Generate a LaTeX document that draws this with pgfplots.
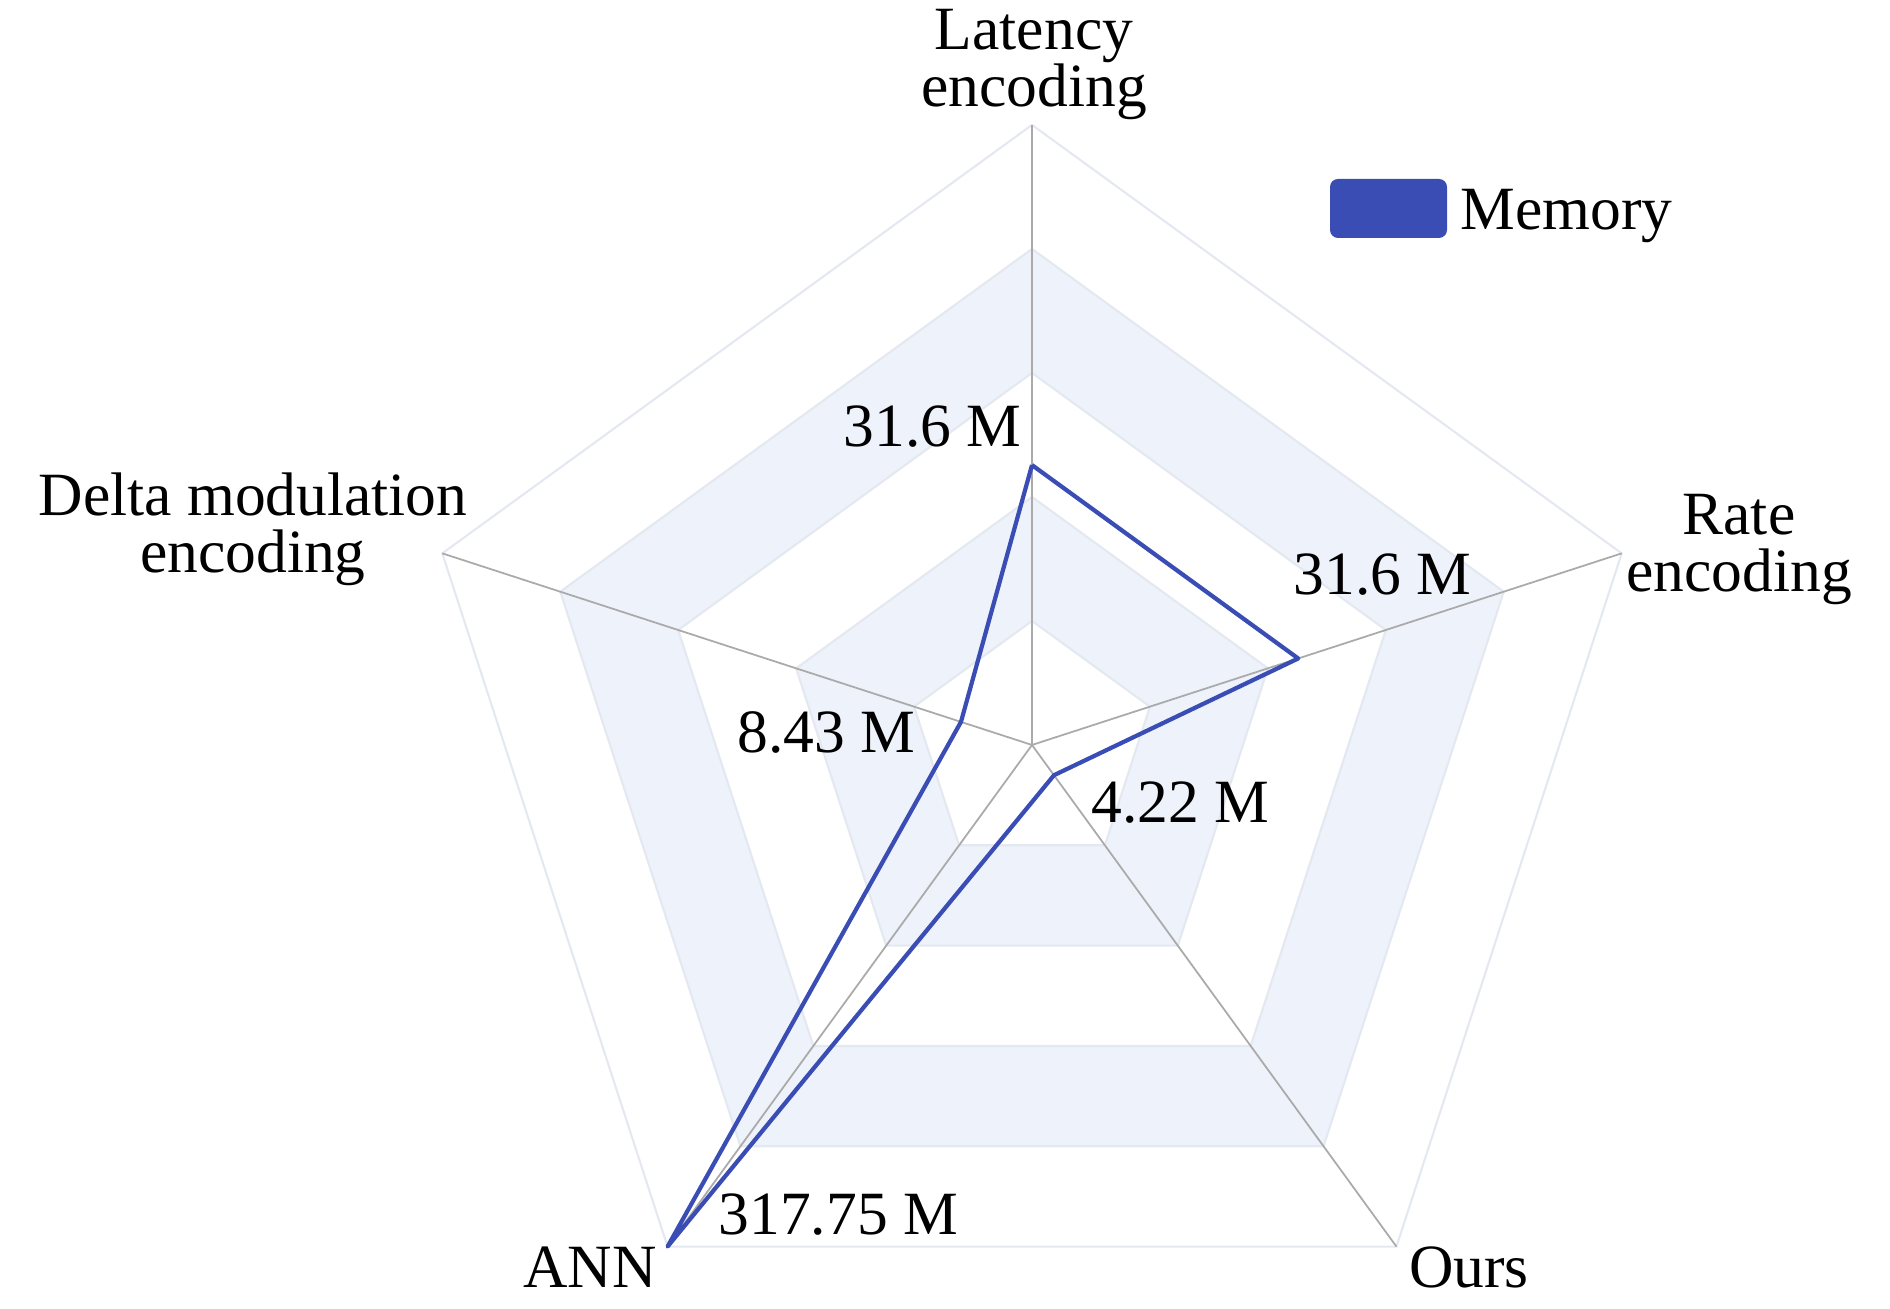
\documentclass[border=0pt]{standalone}
\usepackage{pgfplots}
\pgfplotsset{compat=1.18}
\usepackage{fontspec}
\setmainfont{Liberation Serif}
\definecolor{band}{RGB}{238,242,250}
\definecolor{splitln}{RGB}{228,232,241}
\definecolor{spoke}{RGB}{170,170,170}
\definecolor{mem}{RGB}{58,77,181}
\begin{document}
\begin{tikzpicture}[every node/.style={font=\fontsize{17.5pt}{16pt}\selectfont, inner sep=0pt}]
\begin{axis}[hide axis, clip=false,
  x=0.0885714cm, y=0.0885714cm,
  xmin=-70, xmax=70, ymin=-70, ymax=70]
% split areas (levels 14,28,42,56,70)
\addplot[fill=band, draw=none, data cs=polar] coordinates {(90,56)(18,56)(306,56)(234,56)(162,56)(90,56)};
\addplot[fill=white, draw=none, data cs=polar] coordinates {(90,42)(18,42)(306,42)(234,42)(162,42)(90,42)};
\addplot[fill=band, draw=none, data cs=polar] coordinates {(90,28)(18,28)(306,28)(234,28)(162,28)(90,28)};
\addplot[fill=white, draw=none, data cs=polar] coordinates {(90,14)(18,14)(306,14)(234,14)(162,14)(90,14)};
% split lines
\foreach \r in {14,28,42,56,70}{
  \addplot[draw=splitln, line width=0.6pt, data cs=polar] coordinates {(90,\r)(18,\r)(306,\r)(234,\r)(162,\r)(90,\r)};
}
% spokes
\foreach \a in {90,18,306,234,162}{
  \addplot[draw=spoke, line width=0.5pt, data cs=polar] coordinates {(\a,0)(\a,70)};
}
% Memory: Latency 31.6, Rate 31.6, Ours 4.22, ANN 317.75 (drawn at axis max 70), Delta 8.43
\addplot[draw=mem, line width=1.2pt, line join=round, data cs=polar] coordinates {
  (90,31.6) (18,31.6) (306,4.22) (234,70) (162,8.43) (90,31.6)};
\coordinate (O) at (axis cs:0,0);
\end{axis}
\pgfresetboundingbox
\useasboundingbox ([shift={(-10.32cm,-5.64cm)}]O) rectangle ([shift={(8.58cm,7.45cm)}]O);
% axis names
\node[anchor=base] at ([shift={(0.02cm,6.95cm)}]O) {Latency};
\node[anchor=base] at ([shift={(0.02cm,6.38cm)}]O) {encoding};
\node[anchor=base] at ([shift={(7.07cm,2.105cm)}]O) {Rate};
\node[anchor=base] at ([shift={(7.07cm,1.535cm)}]O) {encoding};
\node[anchor=base] at ([shift={(-7.79cm,2.295cm)}]O) {Delta modulation};
\node[anchor=base] at ([shift={(-7.79cm,1.725cm)}]O) {encoding};
\node[anchor=base] at ([shift={(-4.42cm,-5.43cm)}]O) {ANN};
\node[anchor=base] at ([shift={(4.37cm,-5.43cm)}]O) {Ours};
% value labels
\node[anchor=base east] at ([shift={(-0.10cm,2.98cm)}]O) {31.6 M};
\node[anchor=base west] at ([shift={(2.61cm,1.50cm)}]O) {31.6 M};
\node[anchor=base west] at ([shift={(-2.95cm,-0.08cm)}]O) {8.43 M};
\node[anchor=base west] at ([shift={(0.59cm,-0.78cm)}]O) {4.22 M};
\node[anchor=base west] at ([shift={(-3.14cm,-4.90cm)}]O) {317.75 M};
% legend
\fill[mem, rounded corners=0.08cm] ([shift={(2.98cm,5.07cm)}]O) rectangle ([shift={(4.15cm,5.66cm)}]O);
\node[anchor=base west] at ([shift={(4.28cm,5.15cm)}]O) {Memory};
\end{tikzpicture}
\end{document}
